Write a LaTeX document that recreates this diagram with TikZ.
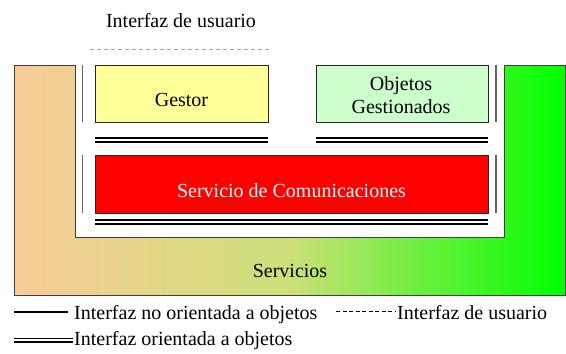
\documentclass[tikz,border=0pt]{standalone}
\usepackage{fontspec}
\setmainfont{Liberation Serif}
\definecolor{peach}{RGB}{249,203,152}
\definecolor{midyg}{RGB}{205,224,120}
\definecolor{brightgreen}{RGB}{0,255,0}
\definecolor{boxyellow}{RGB}{255,255,153}
\definecolor{boxgreen}{RGB}{204,255,204}
\definecolor{edgegray}{RGB}{64,64,64}
\definecolor{ifgray}{RGB}{100,100,100}
\definecolor{uigray}{RGB}{160,160,160}
\begin{document}
\begin{tikzpicture}[x=1pt,y=-1pt,
  txt/.style={font=\fontsize{20}{24}\selectfont, inner sep=0pt, anchor=base},
  box/.style={draw=black!85, line width=0.9pt, inner sep=0pt},
  noif/.style={draw=ifgray, line width=1.6pt},
  ooif/.style={draw=black, line width=1.8pt, double=white, double distance=2.8pt},
  uiif/.style={draw=uigray, line width=1pt, dash pattern=on 4pt off 3pt},
  legsolid/.style={draw=black, line width=1.1pt},
  legdash/.style={draw=black, line width=1pt, dash pattern=on 4pt off 2.5pt},
  legdouble/.style={draw=black, line width=1.5pt, double=white, double distance=2pt}]
\useasboundingbox (0,0) rectangle (566,354);

% Servicios U shape
\shade[left color=peach, right color=brightgreen, middle color=midyg]
  (14,65) -- (75,65) -- (75,237) -- (504,237) -- (504,65) -- (565,65) -- (565,295) -- (14,295) -- cycle;
\draw[draw=edgegray, line width=1pt]
  (14,65) -- (75,65) -- (75,237) -- (504,237) -- (504,65) -- (565,65) -- (565,295) -- (14,295) -- cycle;
\node[txt] (servicios) at (290,277) {Servicios};

% boxes
\node[box, fill=boxyellow, minimum width=173pt, minimum height=57pt] (gestor) at (181.5,93.5) {};
\node[txt] (gestortxt) at (181.5,106) {Gestor};
\node[box, fill=boxgreen, minimum width=172pt, minimum height=57pt] (objetos) at (402,93.5) {};
\node[txt] (objtxt1) at (401,90) {Objetos};
\node[txt] (objtxt2) at (401,113) {Gestionados};
\node[box, fill=red, minimum width=393pt, minimum height=58pt] (comm) at (291.5,184) {};
\node[txt, text=white] (commtxt) at (291.5,197) {Servicio de Comunicaciones};

% non-object interfaces (grey vertical lines)
\draw[noif] ([xshift=-12pt]gestor.north west) -- ([xshift=-12pt]gestor.south west);
\draw[noif] ([xshift=7.5pt]objetos.north east) -- ([xshift=7.5pt]objetos.south east);
\draw[noif] ([xshift=-12pt]comm.north west) -- ([xshift=-12pt]comm.south west);
\draw[noif] ([xshift=7.5pt]comm.north east) -- ([xshift=7.5pt]comm.south east);

% object interfaces (double lines)
\draw[ooif] ([yshift=-17.5pt]gestor.south west) -- ([yshift=-17.5pt]gestor.south east);
\draw[ooif] ([yshift=-17.5pt]objetos.south west) -- ([yshift=-17.5pt]objetos.south east);
\draw[ooif] ([yshift=-8.5pt]comm.south west) -- ([yshift=-8.5pt]comm.south east);

% user interface
\node[txt] (uitxt) at (181,27) {Interfaz de usuario};
\coordinate (ui1) at (90,49);
\coordinate (ui2) at (270,49);
\draw[uiif] (ui1) -- (ui2);

% legend
\coordinate (l1a) at (14,312);
\coordinate (l1b) at (68,312);
\draw[legsolid] (l1a) -- (l1b);
\node[txt, anchor=base west] (leg1) at (74,319) {Interfaz no orientada a objetos};
\coordinate (l2a) at (336,311);
\coordinate (l2b) at (395,311);
\draw[legdash] (l2a) -- (l2b);
\node[txt, anchor=base west] (leg2) at (397,319) {Interfaz de usuario};
\coordinate (l3a) at (14,340);
\coordinate (l3b) at (73,340);
\draw[legdouble] (l3a) -- (l3b);
\node[txt, anchor=base west] (leg3) at (74,345) {Interfaz orientada a objetos};
\end{tikzpicture}
\end{document}
